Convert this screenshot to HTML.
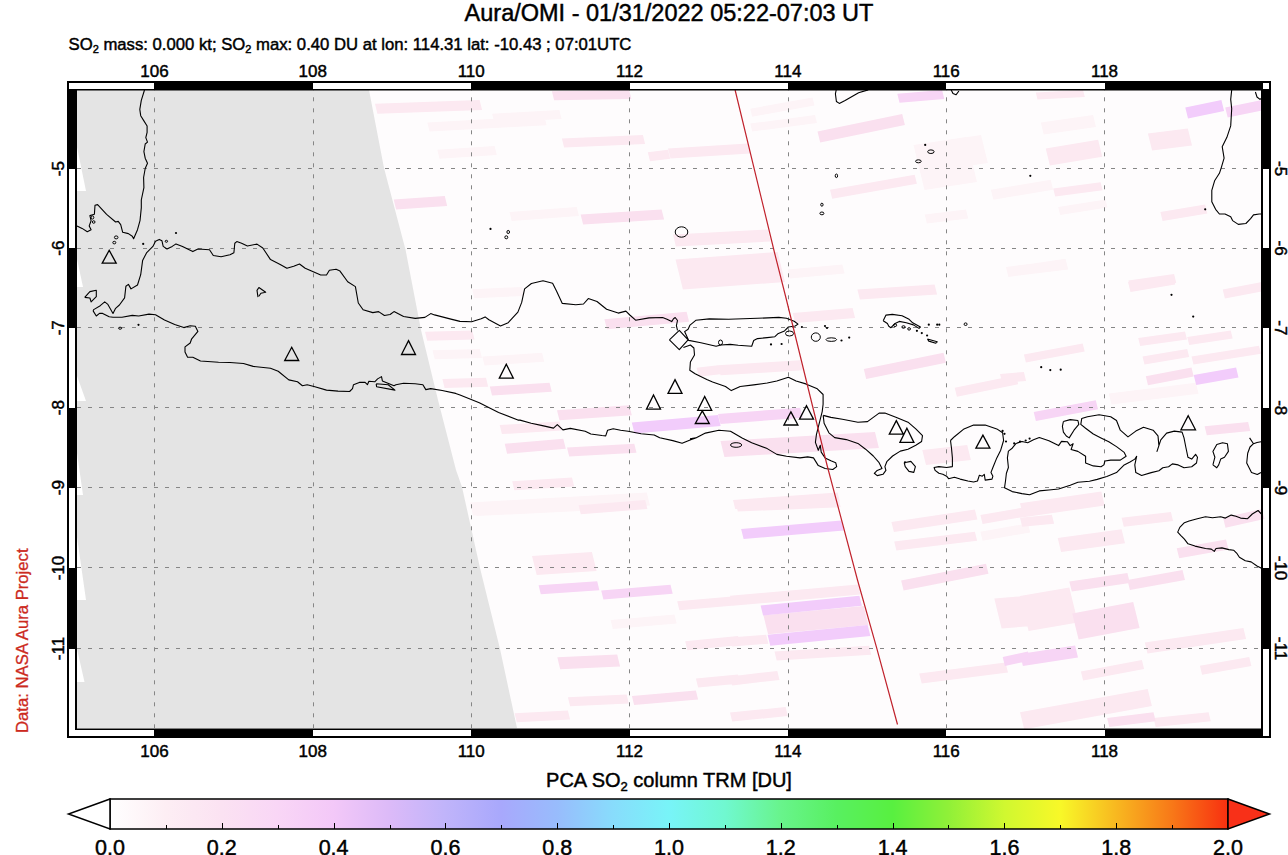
<!DOCTYPE html>
<html><head><meta charset='utf-8'><style>
html,body{margin:0;padding:0;background:#fff;}
body{width:1288px;height:855px;position:relative;overflow:hidden;}
</style></head><body>
<svg width='1288' height='855' viewBox='0 0 1288 855' style='position:absolute;left:0;top:0'><rect x='77' y='90' width='1184' height='638' fill='#fefcfd'/><defs><filter id='bl' x='-5%' y='-5%' width='110%' height='110%'><feGaussianBlur stdDeviation='0.7'/></filter></defs><g filter='url(#bl)'><path fill='#fdf4f7' d='M509.5,212.1L576.8,207.1L579.0,216.1L511.7,221.1ZM472.2,289.3L522.0,286.9L524.2,295.9L474.4,298.3ZM427.3,122.4L544.4,116.2L546.6,125.2L429.5,131.4ZM492.1,113.7L559.4,109.9L561.6,118.9L494.3,122.7ZM437.3,149.8L494.6,146.1L496.8,155.1L439.5,158.8ZM750.2,108.7L812.5,97.5L814.5,105.5L752.2,116.7ZM750.2,123.6L815.0,114.9L817.0,122.9L752.2,131.6ZM913.5,145.0L966.0,137.0L977.0,182.0L924.5,190.0ZM787.6,269.4L842.4,264.4L844.6,273.4L789.8,278.4ZM924.7,214.6L966.0,209.6L968.2,218.6L926.9,223.6ZM1040.8,122.4L1093.1,114.9L1096.0,126.9L1043.7,134.4ZM990.9,189.7L1050.7,179.7L1053.2,189.7L993.4,199.7ZM1058.2,207.1L1105.5,199.6L1107.5,207.6L1060.2,215.1ZM1005.9,266.9L1065.7,259.4L1068.2,269.4L1008.4,276.9ZM966.0,137.3L981.0,135.0L987.9,163.0L972.9,165.3ZM432.5,350.3L479.8,349.1L482.0,358.1L434.7,359.3ZM482.3,356.6L542.1,352.8L544.3,361.8L484.5,365.6ZM469.8,502.4L646.8,492.4L650.0,505.4L473.0,515.4ZM1006.5,267.4L1065.3,258.7L1067.5,267.7L1008.7,276.4ZM1108.8,393.6L1195.9,382.8L1198.6,393.8L1111.5,404.6ZM610.6,619.9L674.5,614.6L676.7,623.6L612.8,628.9ZM474.6,508.0L578.6,503.0L580.6,511.0L476.6,516.0ZM980.4,531.7L1028.0,523.4L1030.2,532.4L982.6,540.7Z'/>
<path fill='#fce9f1' d='M375.0,103.7L479.6,100.0L482.1,110.0L377.4,113.7ZM561.9,138.6L642.9,134.9L645.1,143.9L564.1,147.6ZM647.8,152.3L668.0,149.8L670.2,158.8L650.0,161.3ZM668.0,148.6L747.7,143.6L750.2,153.6L670.5,158.6ZM830.0,189.7L914.7,174.7L916.9,183.7L832.2,198.7ZM673.0,234.5L767.7,229.5L770.6,241.5L675.9,246.5ZM675.5,259.4L777.6,252.0L785.0,282.0L682.9,289.4ZM857.4,289.4L934.6,284.4L937.1,294.4L859.9,299.4ZM1147.9,133.6L1187.8,128.6L1192.0,145.6L1152.1,150.6ZM1045.7,148.6L1098.1,139.8L1102.3,156.8L1049.9,165.6ZM1035.8,92.5L1083.1,90.0L1084.8,97.0L1037.5,99.5ZM1053.2,188.4L1100.6,182.2L1102.6,190.2L1055.2,196.4ZM1160.4,212.1L1205.2,204.6L1207.4,213.6L1162.6,221.1ZM1128.0,281.9L1172.8,274.4L1175.2,284.4L1130.5,291.9ZM1222.7,289.4L1262.0,281.9L1264.2,290.9L1224.9,298.4ZM512.2,481.2L572.0,477.4L574.2,486.4L514.4,490.2ZM425.0,331.7L472.3,330.4L474.5,339.4L427.2,340.7ZM499.7,425.1L559.5,421.4L561.7,430.4L501.9,434.1ZM442.4,379.0L486.0,377.8L488.2,386.8L444.6,388.0ZM696.6,367.8L718.0,365.3L720.2,374.3L698.8,376.8ZM718.0,365.3L800.2,360.3L802.7,370.3L720.5,375.3ZM792.8,313.0L852.6,308.0L855.1,318.0L795.2,323.0ZM954.7,387.7L1016.0,375.3L1018.2,384.3L956.9,396.7ZM733.0,499.9L837.6,492.4L839.8,501.4L735.2,508.9ZM922.3,450.0L967.2,445.0L970.9,460.0L926.0,465.0ZM1142.5,356.6L1187.2,349.0L1189.2,357.0L1144.5,364.6ZM1138.2,338.1L1185.0,331.6L1187.0,339.6L1140.2,346.1ZM1187.2,337.0L1230.7,330.5L1232.7,338.5L1189.2,345.0ZM1191.5,356.6L1259.0,345.8L1261.0,353.8L1193.5,364.6ZM1023.9,354.5L1082.7,343.6L1084.7,351.6L1025.9,362.5ZM1128.4,280.5L1174.1,273.9L1176.3,282.9L1130.6,289.5ZM1000.0,374.0L1023.9,371.9L1026.1,380.9L1002.2,383.0ZM532.0,556.0L591.9,552.0L596.6,571.0L536.7,575.0ZM677.2,601.3L738.0,596.0L740.2,605.0L679.4,610.3ZM685.2,641.3L738.0,635.9L740.2,644.9L687.4,650.3ZM695.9,678.6L738.0,674.6L740.2,683.6L698.1,687.6ZM514.6,713.2L567.9,710.6L570.1,719.6L516.8,722.2ZM567.9,697.2L626.6,694.6L628.8,703.6L570.1,706.2ZM578.6,505.3L645.2,500.0L647.4,509.0L580.8,514.3ZM891.4,522.0L974.9,509.5L977.4,519.5L893.9,532.0ZM894.2,541.5L974.9,531.7L977.1,540.7L896.4,550.5ZM980.4,515.0L1028.0,506.7L1030.2,515.7L982.6,524.0ZM730.0,595.7L858.0,584.6L860.5,594.6L732.5,605.7ZM730.0,637.5L766.2,634.7L768.4,643.7L732.2,646.5ZM774.5,651.4L869.1,645.8L871.3,654.8L776.7,660.4ZM735.6,502.5L838.5,498.3L840.7,507.3L737.8,511.5ZM919.2,673.6L1005.5,662.5L1008.0,672.5L921.7,683.6ZM730.0,676.4L777.3,670.9L779.5,679.9L732.2,685.4ZM730.0,712.6L785.6,707.0L787.8,716.0L732.2,721.6ZM994.3,598.5L1028.0,595.7L1035.3,625.7L1001.6,628.5ZM1020.0,596.1L1069.3,587.4L1077.9,622.4L1028.6,631.1ZM1057.7,538.0L1121.6,529.3L1125.0,543.3L1061.1,552.0ZM1020.0,503.2L1101.3,491.6L1104.7,505.6L1023.4,517.2ZM1121.6,517.7L1170.9,511.9L1173.1,520.9L1123.8,526.7ZM1144.8,642.5L1243.4,628.0L1246.1,639.0L1147.5,653.5ZM1080.9,671.5L1141.9,659.9L1144.1,668.9L1083.1,680.5ZM1199.9,665.7L1249.2,657.0L1251.4,666.0L1202.1,674.7ZM1020.0,712.2L1147.7,688.9L1151.9,705.9L1024.2,729.2ZM1153.5,718.0L1208.6,712.2L1210.8,721.2L1155.7,727.0ZM1020.0,517.7L1051.9,514.8L1054.1,523.8L1022.2,526.7Z'/>
<path fill='#fae0ef' d='M551.9,91.2L629.2,90.0L631.4,99.0L554.1,100.2ZM393.7,199.6L444.8,195.9L447.2,205.9L396.1,209.6ZM580.6,214.6L661.6,209.6L664.1,219.6L583.1,224.6ZM817.5,131.4L902.2,113.9L904.9,124.9L820.2,142.4ZM489.8,386.5L549.6,382.7L551.8,391.7L492.0,395.5ZM557.0,410.2L629.3,405.2L631.8,415.2L559.5,420.2ZM504.7,443.8L563.3,438.8L565.8,448.8L507.1,453.8ZM567.0,447.5L634.3,443.8L636.5,452.8L569.2,456.5ZM604.4,319.2L686.6,311.7L689.1,321.7L606.9,329.2ZM720.5,441.0L875.0,432.0L878.9,448.0L724.4,457.0ZM863.8,369.0L943.5,352.8L946.0,362.8L866.2,379.0ZM1145.8,376.2L1191.5,367.5L1193.7,376.5L1148.0,385.2ZM1204.6,426.3L1248.1,421.9L1250.3,430.9L1206.8,435.3ZM557.3,657.2L617.2,654.6L620.1,666.6L560.2,669.2ZM631.9,695.9L695.9,690.6L698.1,699.6L634.1,704.9ZM763.4,615.2L863.6,606.0L868.3,625.0L768.1,634.2ZM901.1,580.4L986.0,563.7L988.5,573.7L903.6,590.4ZM1072.2,613.5L1133.2,601.9L1139.6,627.9L1078.6,639.5ZM1069.3,581.6L1127.4,572.9L1129.9,582.9L1071.8,591.6ZM1127.4,580.1L1182.5,570.0L1185.0,580.0L1129.9,590.1ZM1176.7,548.2L1226.0,539.5L1228.5,549.5L1179.2,558.2ZM1223.1,517.7L1262.0,509.0L1264.5,519.0L1225.5,527.7ZM1107.1,718.0L1153.5,712.2L1155.7,721.2L1109.3,727.0Z'/>
<path fill='#f7d5f5' d='M897.3,93.7L942.1,90.0L944.3,99.0L899.5,102.7ZM1225.2,107.4L1262.0,100.0L1264.5,110.0L1227.7,117.4ZM718.0,413.9L800.2,407.7L802.7,417.7L720.5,423.9ZM1033.7,412.1L1095.8,400.2L1098.0,409.2L1035.9,421.1ZM538.6,585.3L597.2,581.3L599.4,590.3L540.8,594.3ZM601.2,590.6L670.5,584.8L672.7,593.8L603.4,599.6ZM1002.7,657.0L1028.0,651.4L1030.2,660.4L1004.9,666.0ZM1020.0,654.1L1075.1,645.4L1078.0,657.4L1022.9,666.1Z'/>
<path fill='#f2ccfb' d='M1185.3,107.4L1221.4,100.0L1224.1,111.0L1188.0,118.4ZM631.8,422.6L718.0,415.1L720.7,426.1L634.5,433.6ZM1193.7,375.1L1236.1,367.5L1238.5,377.5L1196.2,385.1ZM741.1,529.0L841.3,520.6L843.8,530.6L743.6,539.0ZM760.6,605.5L859.4,595.7L861.9,605.7L763.1,615.5ZM767.6,634.7L867.7,625.0L870.4,636.0L770.3,645.7Z'/></g><polygon fill='#e4e4e4' points='77,90 369,90 384,168 405.6,250 421,330 438,400 456,470 462,487 480,568 500,649 517,728 77,728'/><polygon fill='#ffffff' points='77,147 86,191 77,191'/><polygon fill='#ffffff' points='77,259 83,287 77,287'/><polygon fill='#ffffff' points='77,376 86,401 77,401'/><polygon fill='#ffffff' points='77,453 83,495 77,495'/><polygon fill='#ffffff' points='77,537 86,600 77,600'/><polygon fill='#ffffff' points='77,649 84.5,682 77,682'/><path d='M154.5,90V728M313.5,90V728M471.5,90V728M629.5,90V728M788.5,90V728M946.5,90V728M1104.5,90V728' stroke='#868686' stroke-width='1' stroke-dasharray='4 7' stroke-dashoffset='3.7' fill='none'/><path d='M77,168.5H1261M77,248.5H1261M77,327.5H1261M77,407.5H1261M77,487.5H1261M77,567.5H1261M77,648.5H1261' stroke='#868686' stroke-width='1' stroke-dasharray='4 7' fill='none'/><path d='M144.5,90.0 141.3,100.3 139.8,109.3 140.7,115.7 143.9,120.9 147.1,126.0 147.1,132.4 145.8,137.6 147.5,142.1 145.2,144.0 143.9,151.7 145.2,158.2 147.5,163.3 145.2,168.5 143.6,177.5 143.9,187.7 141.3,200.0 141.3,207.9 140.0,220.7 137.5,229.7 133.6,238.7 132.3,236.2 128.4,233.6 122.7,232.3 120.7,224.6 118.2,221.4 115.6,222.0 106.6,214.3 97.6,204.6 95.0,205.3 94.4,214.3 89.9,215.6 91.1,220.7 89.2,225.9 91.1,229.7 87.3,231.7 82.1,228.4 77.0,225.9M93.1,310.9 93.7,309.6 100.2,305.7 104.7,301.9 107.9,304.4 113.0,313.4 115.6,308.3 119.4,305.0 124.6,297.9 125.9,286.3 128.4,284.4 131.0,288.9 137.5,285.0 140.7,274.7 142.6,260.6 146.5,252.9 152.9,246.4 155.5,241.3 159.3,239.4 161.9,240.7 163.2,246.4 167.0,249.0 172.2,246.4 176.0,243.9 182.5,246.4 192.8,251.6 197.9,249.0 209.5,249.7 213.3,255.5 221.1,256.7 230.0,254.7 233.9,252.8 234.8,243.2 236.8,241.6 241.6,243.2 247.4,246.0 257.0,244.1 262.8,248.0 270.5,259.6 280.2,264.4 286.9,268.2 293.7,266.3 299.5,264.0 305.2,268.2 320.7,275.0 326.5,275.0 329.4,270.2 336.1,269.2 340.0,271.1 347.7,281.7 355.4,286.6 358.3,303.0 363.1,309.7 372.8,312.6 378.6,311.6 384.4,315.5 390.1,314.5 394.0,311.6 403.6,316.5 415.2,318.4 424.9,317.4 430.7,313.6 434.5,314.9 451.9,319.4 460.0,321.4 471.6,321.7 481.2,318.8 485.1,316.9 488.9,319.8 500.5,326.0 508.2,322.7 517.9,312.1 521.7,302.4 524.6,288.9 531.4,283.5 543.0,280.8 552.6,283.2 556.5,290.9 562.3,303.4 575.8,304.8 583.5,304.0 588.3,298.6 597.0,301.5 606.6,309.2 618.2,313.1 625.9,311.1 629.8,315.0 635.6,320.2 649.1,317.9 662.6,317.5 667.0,319.3 671.7,321.6 673.5,318.7 675.2,317.5 677.5,320.5 676.4,325.7 677.5,330.4M93.1,310.9 96.3,316.0 99.5,313.4 102.7,313.4 109.2,316.7 113.0,317.3 122.0,317.3 132.3,315.4 138.7,316.0 149.0,314.1 155.5,314.7 164.5,319.9 174.7,324.4 183.8,327.6 190.2,325.7 195.3,326.3 197.9,331.4 191.5,339.2 190.2,343.0 185.0,346.9 185.0,352.0 187.6,357.2 192.8,357.2 200.5,361.0 218.5,362.3 230.0,362.5 243.5,363.5 253.2,366.4 270.5,368.3 278.2,371.2 288.8,379.9 297.5,381.8 302.4,385.7 307.2,384.7 314.9,386.7 326.5,390.1 338.0,391.1 349.6,391.5 352.5,388.6 353.5,384.7 359.3,382.4 365.1,382.4 367.4,384.7 368.9,381.3 374.7,381.8 377.6,378.9 381.5,376.6 382.4,380.9 394.0,385.7 395.9,384.7 403.6,383.2 415.2,383.8 422.9,384.7 425.8,389.6 430.7,388.6 442.2,390.5 455.7,393.4 460.0,395.0 479.3,402.8 498.6,412.4 517.9,420.1M376.2,383.8 376.6,386.7 395.0,390.1 388.2,384.7 376.2,383.8M84.7,297.4 89.9,291.6 96.3,290.3 96.3,296.7 91.1,301.9 89.9,298.0 84.7,297.4M669.4,339.8 679.3,330.4 688.1,339.8 679.3,349.7 669.4,339.8M683.4,347.4 690.4,345.0 693.9,348.0 694.5,355.0 690.4,362.0 689.8,370.2 695.1,373.7 706.8,379.5 712.6,381.9 725.5,386.5 731.3,390.6 740.2,386.5M690.0,325.1 695.8,320.3 709.3,318.9 728.6,319.3 757.5,318.3 778.8,317.4 786.5,318.3 794.2,321.2 798.0,324.1 795.2,326.0 788.4,327.0 784.5,330.9 777.8,333.8 774.9,336.7 767.2,337.6 757.5,338.6 753.7,340.5 751.7,346.3 738.2,345.3 730.2,344.4 720.8,345.0 716.1,346.2 700.9,342.7 688.7,340.4 684.6,331.6 688.1,329.2 690.0,325.1M740.2,386.5 753.7,384.9 767.2,383.0 776.8,381.0 788.4,377.2 796.1,381.0 805.8,383.9 817.3,388.8 823.1,394.5 823.1,404.2 822.2,411.6 819.3,423.2 816.4,434.7 815.4,442.4 818.3,450.2 820.3,445.3 821.2,452.1 825.1,457.9 830.9,460.8 835.7,462.7 836.7,466.6 832.8,469.5 825.1,468.5 818.3,465.6 813.5,457.9 807.7,456.9 800.0,457.9 786.5,456.3 776.8,454.4 767.2,448.6 751.7,442.8 742.1,438.0 730.5,431.2 718.9,430.2 705.4,433.1 695.8,437.9 690.0,438.9M517.9,420.1 520.0,420.1 531.2,423.2 542.4,425.6 553.5,428.1 557.3,424.7 562.9,429.9 570.3,428.4 585.2,431.2 590.8,434.0 602.0,435.5 605.7,435.9 607.6,430.3 613.2,428.8 620.6,430.3 628.1,431.2 641.1,433.7 654.2,435.0 659.7,437.8 672.8,440.6 682.1,443.3 691.4,439.6 695.8,437.9M823.2,415.4 830.9,417.4 842.4,419.3 857.9,422.2 867.5,421.6 873.3,417.4 879.1,413.1 884.9,413.1 896.5,417.4 908.0,422.2 915.8,428.9 922.5,435.7 921.6,441.5 915.8,445.3 908.0,449.2 900.3,451.1 892.6,456.0 886.8,461.7 884.9,466.6 885.9,470.4 883.0,474.3 877.2,475.6 874.3,473.3 877.2,470.4 882.0,468.5 879.1,462.7 873.3,456.0 865.6,449.2 857.9,443.4 846.3,439.6 834.7,437.6 828.9,432.8 824.1,423.2 823.2,415.4M904.2,462.7 910.9,461.4 915.4,466.6 913.8,472.4 909.0,471.4 905.2,466.6 904.2,462.7M950.5,440.5 954.4,436.7 964.0,428.9 973.6,425.1 985.2,425.1 996.8,428.9 1002.6,432.8 1003.6,440.5 1000.7,450.2 996.8,457.9 992.9,467.5 991.0,472.4 992.9,476.2 992.0,479.1 985.2,480.1 984.3,474.3 982.3,476.2 979.4,475.2 977.5,481.0 973.6,482.0 967.9,481.0 960.1,479.1 954.4,477.2 948.6,478.7 946.6,476.2 942.8,474.3 938.9,473.3 935.1,470.4 934.1,467.5 938.9,466.6 946.6,467.5 952.4,466.6 952.4,457.9 951.5,448.2 950.5,440.5M1008.4,451.1 1012.2,448.2 1016.1,443.4 1021.9,441.5 1027.7,442.7 1033.5,439.8 1039.3,437.5 1048.9,440.8 1058.6,445.6 1061.5,441.4 1067.3,441.7 1070.2,445.6 1073.1,443.7 1071.1,449.5 1077.9,451.4 1085.6,456.2 1085.6,463.0 1093.3,465.9 1101.0,466.8 1103.9,464.9 1104.9,461.0 1110.7,460.1 1120.3,460.1 1126.1,456.2 1124.2,452.4 1116.5,446.6 1108.8,441.7 1101.0,437.9 1093.3,434.0 1085.6,428.2 1080.8,424.4 1081.7,418.6 1087.5,416.7 1099.1,414.7 1110.7,416.7 1116.5,420.5 1120.3,430.2 1128.0,436.9 1135.8,431.1 1143.5,427.3 1153.1,430.2 1158.0,435.9 1158.9,445.6 1157.0,451.4 1160.8,439.8 1166.6,433.1 1174.3,431.1 1182.1,432.1 1184.0,437.9 1185.9,447.5 1187.9,457.2 1191.7,459.1 1195.6,454.3 1197.5,457.2 1196.5,463.0 1191.7,466.8 1184.0,467.8 1178.2,464.9 1172.4,463.9 1168.6,466.8 1162.8,467.8 1158.9,470.7 1151.2,472.6 1141.6,475.5 1135.8,472.6 1134.8,464.9 1136.7,456.2 1134.8,459.1 1130.0,462.0 1124.2,464.9 1116.5,472.6 1106.8,476.5 1097.2,479.4 1089.5,481.3 1077.9,482.3 1070.2,485.2 1058.6,489.0 1048.9,490.0 1039.3,490.9 1029.6,494.8 1021.9,493.6 1012.2,491.6 1004.5,487.8 1005.5,481.0 1006.4,473.3 1008.4,467.5 1007.4,457.9 1008.4,451.1M1063.4,421.5 1070.2,419.6 1077.9,420.5 1078.8,424.4 1074.0,430.2 1069.2,437.9 1066.3,436.0 1063.4,432.1 1062.4,426.3 1063.4,421.5M1212.9,464.9 1214.9,457.2 1212.9,451.4 1216.8,444.6 1222.6,442.7 1227.4,443.7 1228.4,451.4 1224.5,457.2 1220.7,459.1 1218.7,464.9 1216.8,467.8 1212.9,464.9M1249.6,437.9 1253.5,443.7 1257.0,442.5 1261.0,441.7M1261.0,472.6 1257.3,474.5 1251.5,472.6 1246.7,463.0 1247.7,453.3 1250.0,447.0 1253.5,443.7M1262.0,514.6 1258.1,510.5 1252.3,514.0 1247.6,518.7 1240.6,518.1 1235.9,516.3 1231.2,515.1 1225.4,518.1 1220.7,516.7 1212.5,517.8 1205.5,516.7 1197.3,518.7 1189.1,521.0 1184.4,522.7 1179.8,527.4 1177.7,532.1 1180.9,535.6 1184.4,539.1 1188.0,543.8 1195.0,546.1 1205.5,548.5 1211.3,549.1 1214.3,551.4 1216.0,548.5 1221.9,547.9 1228.9,549.6 1233.6,550.2 1237.1,553.7 1239.4,557.3 1245.3,560.8 1251.1,561.9 1257.0,566.0 1262.0,568.4M836.4,89.0 835.4,93.8 836.4,101.5 839.3,103.4 845.1,100.5 858.6,92.8 868.2,89.9M951.2,90.0 953.0,93.5 956.0,94.8 958.9,91.0M1231.7,89.9 1230.7,99.4 1231.7,108.8 1230.7,125.9 1226.9,137.3 1222.2,146.7 1224.1,158.1 1221.3,167.6 1219.4,173.3 1214.6,180.8 1211.8,190.3 1211.8,201.7 1215.6,209.3 1219.4,214.0 1225.0,214.0 1230.7,216.8 1232.6,220.6 1238.3,224.4 1245.9,223.5 1250.6,218.7 1253.5,214.9 1259.2,214.0 1262.0,214.0M1255.4,92.0 1257.0,97.0 1260.0,99.4 1262.0,98.0M883.2,320.7 886.0,315.1 892.3,314.4 902.1,315.8 909.1,319.3 912.7,322.8 920.4,327.0 919.0,328.4 913.4,324.9 906.3,322.8 899.3,321.4 895.1,323.5 890.9,327.7 888.8,326.3 887.4,323.5 883.2,320.7M927.4,339.0 937.2,341.8 935.8,343.2 928.8,341.1 927.4,339.0M258.0,297.2 257.0,290.4 258.9,287.5 265.7,292.3 260.9,293.3 258.9,296.2' fill='none' stroke='#000' stroke-width='1.1' stroke-linejoin='round'/>
<ellipse cx='92.5' cy='217.5' rx='1.3' ry='1.6' fill='none' stroke='#000' stroke-width='1'/>
<ellipse cx='93.7' cy='222' rx='1.3' ry='1.3' fill='none' stroke='#000' stroke-width='1'/>
<ellipse cx='116.2' cy='237.4' rx='1.8' ry='1.5' fill='none' stroke='#000' stroke-width='1'/>
<ellipse cx='114.3' cy='242.6' rx='1.5' ry='1.3' fill='none' stroke='#000' stroke-width='1'/>
<ellipse cx='166.4' cy='241.3' rx='1.2' ry='1.0' fill='none' stroke='#000' stroke-width='1'/>
<ellipse cx='120.1' cy='328.2' rx='1.6' ry='1.0' fill='none' stroke='#000' stroke-width='1'/>
<ellipse cx='789.5' cy='333.5' rx='4' ry='2.5' fill='none' stroke='#000' stroke-width='1'/>
<ellipse cx='815.8' cy='337.1' rx='4.5' ry='4.2' fill='none' stroke='#000' stroke-width='1'/>
<ellipse cx='831.3' cy='339.6' rx='5.3' ry='1.8' fill='none' stroke='#000' stroke-width='1'/>
<ellipse cx='736.1' cy='445' rx='5.6' ry='2.3' fill='none' stroke='#000' stroke-width='1'/>
<ellipse cx='681.5' cy='232' rx='6.3' ry='5.2' fill='none' stroke='#000' stroke-width='1'/>
<ellipse cx='508.2' cy='232' rx='1.3' ry='1.6' fill='none' stroke='#000' stroke-width='1'/>
<ellipse cx='506.3' cy='237.3' rx='1.5' ry='1.5' fill='none' stroke='#000' stroke-width='1'/>
<ellipse cx='930.9' cy='151.7' rx='3.2' ry='1.8' fill='none' stroke='#000' stroke-width='1'/>
<ellipse cx='918.4' cy='161.3' rx='2.8' ry='1.5' fill='none' stroke='#000' stroke-width='1'/>
<ellipse cx='836.4' cy='175.8' rx='1.2' ry='1.8' fill='none' stroke='#000' stroke-width='1'/>
<ellipse cx='821.9' cy='204.7' rx='1.2' ry='1.5' fill='none' stroke='#000' stroke-width='1'/>
<ellipse cx='821.9' cy='213.4' rx='2' ry='1.4' fill='none' stroke='#000' stroke-width='1'/>
<ellipse cx='895.1' cy='325.2' rx='1.6' ry='1.3' fill='none' stroke='#000' stroke-width='1'/>
<ellipse cx='903.5' cy='327' rx='1.6' ry='1.3' fill='none' stroke='#000' stroke-width='1'/>
<ellipse cx='909.1' cy='328.9' rx='1.4' ry='1.2' fill='none' stroke='#000' stroke-width='1'/>
<ellipse cx='965.6' cy='324.2' rx='1.5' ry='1.3' fill='none' stroke='#000' stroke-width='1'/>
<ellipse cx='720.5' cy='342.5' rx='2' ry='2.5' fill='none' stroke='#000' stroke-width='1'/>
<circle cx='143.2' cy='243.9' r='1.1' fill='#000'/>
<circle cx='176' cy='233' r='1.1' fill='#000'/>
<circle cx='138.5' cy='324.8' r='1.1' fill='#000'/>
<circle cx='771' cy='344.4' r='1.1' fill='#000'/>
<circle cx='781.6' cy='344' r='1.1' fill='#000'/>
<circle cx='801.9' cy='327' r='1.1' fill='#000'/>
<circle cx='825' cy='326' r='1.1' fill='#000'/>
<circle cx='827' cy='328' r='1.1' fill='#000'/>
<circle cx='841.5' cy='340.5' r='1.1' fill='#000'/>
<circle cx='849.2' cy='337.6' r='1.1' fill='#000'/>
<circle cx='1002.6' cy='430.9' r='1.1' fill='#000'/>
<circle cx='1004.5' cy='433.8' r='1.1' fill='#000'/>
<circle cx='1006' cy='441.5' r='1.1' fill='#000'/>
<circle cx='1014.2' cy='443.4' r='1.1' fill='#000'/>
<circle cx='1020' cy='441.5' r='1.1' fill='#000'/>
<circle cx='1025.7' cy='440.5' r='1.1' fill='#000'/>
<circle cx='1029.6' cy='438.6' r='1.1' fill='#000'/>
<circle cx='490.5' cy='228.9' r='1.1' fill='#000'/>
<circle cx='925.2' cy='144.9' r='1.1' fill='#000'/>
<circle cx='1030.3' cy='175.8' r='1.1' fill='#000'/>
<circle cx='1205.2' cy='209.3' r='1.1' fill='#000'/>
<circle cx='1171.5' cy='294.8' r='1.1' fill='#000'/>
<circle cx='1193.2' cy='316.6' r='1.1' fill='#000'/>
<circle cx='1041.2' cy='367.2' r='1.1' fill='#000'/>
<circle cx='1050.3' cy='370.1' r='1.1' fill='#000'/>
<circle cx='1060.7' cy='369.7' r='1.1' fill='#000'/>
<circle cx='916.9' cy='330.8' r='1.1' fill='#000'/>
<circle cx='921.8' cy='333.1' r='1.1' fill='#000'/>
<circle cx='927.1' cy='335.5' r='1.1' fill='#000'/>
<circle cx='928.8' cy='324.7' r='1.1' fill='#000'/>
<circle cx='937.2' cy='324.7' r='1.1' fill='#000'/>
<circle cx='939.3' cy='324.7' r='1.1' fill='#000'/>
<circle cx='905' cy='462.3' r='1.1' fill='#000'/>
<path d='M109.2,250.3L116.2,263.2L102.2,263.2ZM291.7,347.3L298.7,360.5L284.7,360.5ZM408.5,340.6L415.5,354.5L401.5,354.5ZM506.3,364.2L513.3,378.1L499.3,378.1ZM675.0,379.6L682.0,393.4L668.0,393.4ZM653.5,395.0L660.5,409.1L646.5,409.1ZM704.7,396.5L711.7,410.4L697.7,410.4ZM702.3,410.9L709.3,423.5L695.3,423.5ZM790.9,411.9L797.9,425.0L783.9,425.0ZM806.5,405.7L813.5,419.2L799.5,419.2ZM896.3,420.6L903.3,434.1L889.3,434.1ZM906.9,428.3L913.9,442.4L899.9,442.4ZM982.9,435.1L989.9,448.2L975.9,448.2ZM1188.2,415.7L1195.5,429.8L1180.9,429.8Z' fill='none' stroke='#000' stroke-width='1.3' stroke-linejoin='miter'/><polyline points='735.1,90 774.6,253 786.5,300 827,465 857.5,580 876.8,648.4 897.5,724.5' fill='none' stroke='#c0222c' stroke-width='1.2'/><rect x='68' y='82' width='1202' height='655' fill='none' stroke='#000' stroke-width='2'/><path d='M75,89H1263V90.4H75ZM75,728.6H1263V730H75ZM75,89H77V730H75ZM1261,89H1263V730H1261Z' fill='#000'/><rect x='154' y='83' width='159' height='7' fill='#000'/><rect x='154' y='729' width='159' height='7' fill='#000'/><rect x='471' y='83' width='159' height='7' fill='#000'/><rect x='471' y='729' width='159' height='7' fill='#000'/><rect x='788' y='83' width='158' height='7' fill='#000'/><rect x='788' y='729' width='158' height='7' fill='#000'/><rect x='1105' y='83' width='158' height='7' fill='#000'/><rect x='1105' y='729' width='158' height='7' fill='#000'/><rect x='69' y='89' width='8' height='80' fill='#000'/><rect x='1261' y='89' width='8' height='80' fill='#000'/><rect x='69' y='248' width='8' height='80' fill='#000'/><rect x='1261' y='248' width='8' height='80' fill='#000'/><rect x='69' y='408' width='8' height='80' fill='#000'/><rect x='1261' y='408' width='8' height='80' fill='#000'/><rect x='69' y='568' width='8' height='81' fill='#000'/><rect x='1261' y='568' width='8' height='81' fill='#000'/><text x='669' y='20.8' text-anchor='middle' style="font-family:'Liberation Sans',sans-serif;stroke:currentColor;stroke-width:0.45px;font-size:23.5px">Aura/OMI - 01/31/2022 05:22-07:03 UT</text><text x='68.5' y='50' style="font-family:'Liberation Sans',sans-serif;stroke:currentColor;stroke-width:0.45px;font-size:16.7px">SO<tspan dy='3' style='font-size:11px'>2</tspan><tspan dy='-3'> mass: 0.000 kt; SO</tspan><tspan dy='3' style='font-size:11px'>2</tspan><tspan dy='-3'> max: 0.40 DU at lon: 114.31 lat: -10.43 ; 07:01UTC</tspan></text><text x='154.5' y='77' text-anchor='middle' style="font-family:'Liberation Sans',sans-serif;stroke:currentColor;stroke-width:0.45px;font-size:17px">106</text><text x='154.5' y='757' text-anchor='middle' style="font-family:'Liberation Sans',sans-serif;stroke:currentColor;stroke-width:0.45px;font-size:17px">106</text><text x='312.8' y='77' text-anchor='middle' style="font-family:'Liberation Sans',sans-serif;stroke:currentColor;stroke-width:0.45px;font-size:17px">108</text><text x='312.8' y='757' text-anchor='middle' style="font-family:'Liberation Sans',sans-serif;stroke:currentColor;stroke-width:0.45px;font-size:17px">108</text><text x='471.2' y='77' text-anchor='middle' style="font-family:'Liberation Sans',sans-serif;stroke:currentColor;stroke-width:0.45px;font-size:17px">110</text><text x='471.2' y='757' text-anchor='middle' style="font-family:'Liberation Sans',sans-serif;stroke:currentColor;stroke-width:0.45px;font-size:17px">110</text><text x='629.5' y='77' text-anchor='middle' style="font-family:'Liberation Sans',sans-serif;stroke:currentColor;stroke-width:0.45px;font-size:17px">112</text><text x='629.5' y='757' text-anchor='middle' style="font-family:'Liberation Sans',sans-serif;stroke:currentColor;stroke-width:0.45px;font-size:17px">112</text><text x='787.9' y='77' text-anchor='middle' style="font-family:'Liberation Sans',sans-serif;stroke:currentColor;stroke-width:0.45px;font-size:17px">114</text><text x='787.9' y='757' text-anchor='middle' style="font-family:'Liberation Sans',sans-serif;stroke:currentColor;stroke-width:0.45px;font-size:17px">114</text><text x='946.2' y='77' text-anchor='middle' style="font-family:'Liberation Sans',sans-serif;stroke:currentColor;stroke-width:0.45px;font-size:17px">116</text><text x='946.2' y='757' text-anchor='middle' style="font-family:'Liberation Sans',sans-serif;stroke:currentColor;stroke-width:0.45px;font-size:17px">116</text><text x='1104.5' y='77' text-anchor='middle' style="font-family:'Liberation Sans',sans-serif;stroke:currentColor;stroke-width:0.45px;font-size:17px">118</text><text x='1104.5' y='757' text-anchor='middle' style="font-family:'Liberation Sans',sans-serif;stroke:currentColor;stroke-width:0.45px;font-size:17px">118</text><text transform='translate(63.5,168.6) rotate(-90)' text-anchor='middle' style="font-family:'Liberation Sans',sans-serif;stroke:currentColor;stroke-width:0.45px;font-size:17px">-5</text><text transform='translate(1274.5,168.6) rotate(90)' text-anchor='middle' style="font-family:'Liberation Sans',sans-serif;stroke:currentColor;stroke-width:0.45px;font-size:17px">-5</text><text transform='translate(63.5,248.1) rotate(-90)' text-anchor='middle' style="font-family:'Liberation Sans',sans-serif;stroke:currentColor;stroke-width:0.45px;font-size:17px">-6</text><text transform='translate(1274.5,248.1) rotate(90)' text-anchor='middle' style="font-family:'Liberation Sans',sans-serif;stroke:currentColor;stroke-width:0.45px;font-size:17px">-6</text><text transform='translate(63.5,327.8) rotate(-90)' text-anchor='middle' style="font-family:'Liberation Sans',sans-serif;stroke:currentColor;stroke-width:0.45px;font-size:17px">-7</text><text transform='translate(1274.5,327.8) rotate(90)' text-anchor='middle' style="font-family:'Liberation Sans',sans-serif;stroke:currentColor;stroke-width:0.45px;font-size:17px">-7</text><text transform='translate(63.5,407.7) rotate(-90)' text-anchor='middle' style="font-family:'Liberation Sans',sans-serif;stroke:currentColor;stroke-width:0.45px;font-size:17px">-8</text><text transform='translate(1274.5,407.7) rotate(90)' text-anchor='middle' style="font-family:'Liberation Sans',sans-serif;stroke:currentColor;stroke-width:0.45px;font-size:17px">-8</text><text transform='translate(63.5,487.7) rotate(-90)' text-anchor='middle' style="font-family:'Liberation Sans',sans-serif;stroke:currentColor;stroke-width:0.45px;font-size:17px">-9</text><text transform='translate(1274.5,487.7) rotate(90)' text-anchor='middle' style="font-family:'Liberation Sans',sans-serif;stroke:currentColor;stroke-width:0.45px;font-size:17px">-9</text><text transform='translate(63.5,568.0) rotate(-90)' text-anchor='middle' style="font-family:'Liberation Sans',sans-serif;stroke:currentColor;stroke-width:0.45px;font-size:17px">-10</text><text transform='translate(1274.5,568.0) rotate(90)' text-anchor='middle' style="font-family:'Liberation Sans',sans-serif;stroke:currentColor;stroke-width:0.45px;font-size:17px">-10</text><text transform='translate(63.5,648.5) rotate(-90)' text-anchor='middle' style="font-family:'Liberation Sans',sans-serif;stroke:currentColor;stroke-width:0.45px;font-size:17px">-11</text><text transform='translate(1274.5,648.5) rotate(90)' text-anchor='middle' style="font-family:'Liberation Sans',sans-serif;stroke:currentColor;stroke-width:0.45px;font-size:17px">-11</text><text transform='translate(28.3,733) rotate(-90)' style="font-family:'Liberation Sans',sans-serif;stroke:currentColor;stroke-width:0.45px;font-size:16.7px;fill:#cc2a1e;stroke:#cc2a1e;stroke-width:0.3px">Data: NASA Aura Project</text><text x='669' y='787' text-anchor='middle' style="font-family:'Liberation Sans',sans-serif;stroke:currentColor;stroke-width:0.45px;font-size:20px">PCA SO<tspan dy='4' style='font-size:13px'>2</tspan><tspan dy='-4'> column TRM [DU]</tspan></text><defs><linearGradient id='cb' x1='0' x2='1' y1='0' y2='0'><stop offset='0.000' stop-color='#ffffff'/><stop offset='0.050' stop-color='#fdeef4'/><stop offset='0.100' stop-color='#fbe2f2'/><stop offset='0.150' stop-color='#f9d6f6'/><stop offset='0.200' stop-color='#f3c8f8'/><stop offset='0.250' stop-color='#dcbaf8'/><stop offset='0.300' stop-color='#c0b4fa'/><stop offset='0.350' stop-color='#a8a8fc'/><stop offset='0.400' stop-color='#98bcfc'/><stop offset='0.450' stop-color='#88dcfc'/><stop offset='0.500' stop-color='#78f4f8'/><stop offset='0.550' stop-color='#70f8d0'/><stop offset='0.600' stop-color='#68f48c'/><stop offset='0.650' stop-color='#58f060'/><stop offset='0.700' stop-color='#58f040'/><stop offset='0.750' stop-color='#90f038'/><stop offset='0.800' stop-color='#d0f830'/><stop offset='0.850' stop-color='#f8f828'/><stop offset='0.900' stop-color='#f8b820'/><stop offset='0.950' stop-color='#f87818'/><stop offset='1.000' stop-color='#f83010'/></linearGradient></defs><rect x='110' y='799' width='1118' height='30' fill='url(#cb)' stroke='#000' stroke-width='1.5'/><polygon points='110,799 68.5,814 110,829' fill='#fff' stroke='#000' stroke-width='1.5' stroke-linejoin='miter'/><polygon points='1228,799 1269.5,814 1228,829' fill='#f83018' stroke='#000' stroke-width='1.5'/><path d='M166.5,829v-4M222.5,829v-6M278.5,829v-4M334.5,829v-6M390.5,829v-4M445.5,829v-6M501.5,829v-4M557.5,829v-6M613.5,829v-4M669.5,829v-6M725.5,829v-4M781.5,829v-6M837.5,829v-4M893.5,829v-6M948.5,829v-4M1004.5,829v-6M1060.5,829v-4M1116.5,829v-6M1172.5,829v-4' stroke='#000' stroke-width='1'/><text x='110.0' y='855' text-anchor='middle' style="font-family:'Liberation Sans',sans-serif;stroke:currentColor;stroke-width:0.45px;font-size:21.5px">0.0</text><text x='221.8' y='855' text-anchor='middle' style="font-family:'Liberation Sans',sans-serif;stroke:currentColor;stroke-width:0.45px;font-size:21.5px">0.2</text><text x='333.6' y='855' text-anchor='middle' style="font-family:'Liberation Sans',sans-serif;stroke:currentColor;stroke-width:0.45px;font-size:21.5px">0.4</text><text x='445.4' y='855' text-anchor='middle' style="font-family:'Liberation Sans',sans-serif;stroke:currentColor;stroke-width:0.45px;font-size:21.5px">0.6</text><text x='557.2' y='855' text-anchor='middle' style="font-family:'Liberation Sans',sans-serif;stroke:currentColor;stroke-width:0.45px;font-size:21.5px">0.8</text><text x='669.0' y='855' text-anchor='middle' style="font-family:'Liberation Sans',sans-serif;stroke:currentColor;stroke-width:0.45px;font-size:21.5px">1.0</text><text x='780.8' y='855' text-anchor='middle' style="font-family:'Liberation Sans',sans-serif;stroke:currentColor;stroke-width:0.45px;font-size:21.5px">1.2</text><text x='892.6' y='855' text-anchor='middle' style="font-family:'Liberation Sans',sans-serif;stroke:currentColor;stroke-width:0.45px;font-size:21.5px">1.4</text><text x='1004.4' y='855' text-anchor='middle' style="font-family:'Liberation Sans',sans-serif;stroke:currentColor;stroke-width:0.45px;font-size:21.5px">1.6</text><text x='1116.2' y='855' text-anchor='middle' style="font-family:'Liberation Sans',sans-serif;stroke:currentColor;stroke-width:0.45px;font-size:21.5px">1.8</text><text x='1228.0' y='855' text-anchor='middle' style="font-family:'Liberation Sans',sans-serif;stroke:currentColor;stroke-width:0.45px;font-size:21.5px">2.0</text></svg>
</body></html>
